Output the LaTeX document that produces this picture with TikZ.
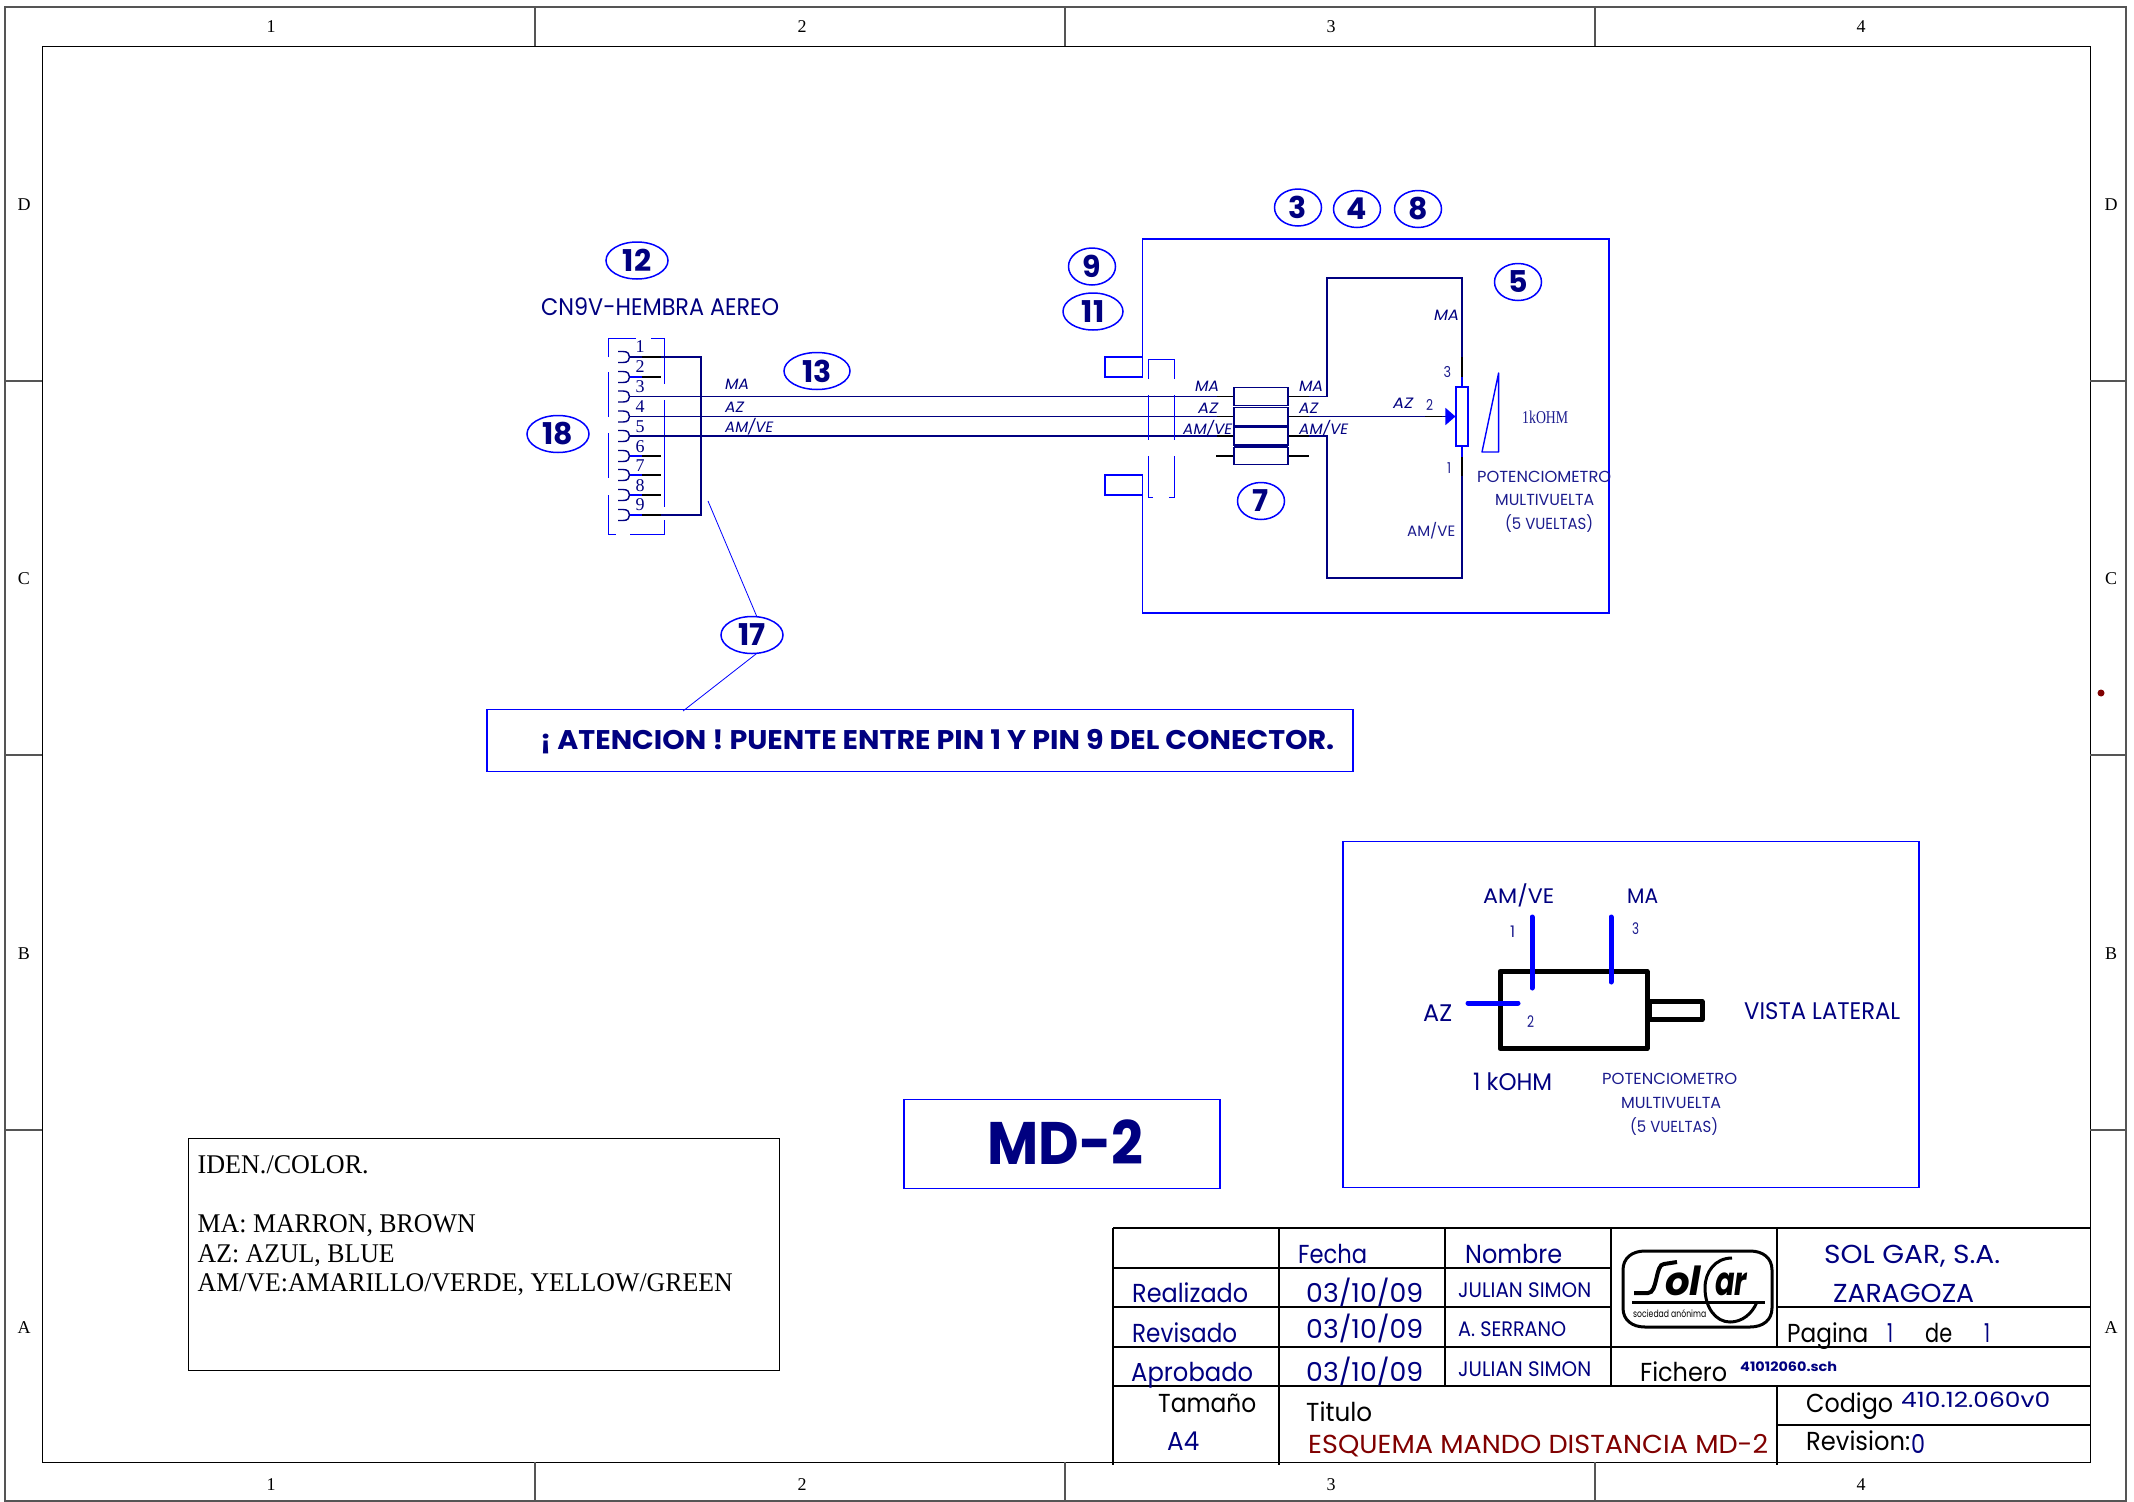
\documentclass[tikz,border=0pt]{standalone}
\usepackage{fontspec}
\usepackage{graphicx}
\usetikzlibrary{shapes.geometric,arrows.meta}
\newfontfamily\cadf{Poppins}
\newfontfamily\serf{Liberation Serif}
\definecolor{navyc}{HTML}{000080}
\definecolor{pureb}{HTML}{0000FF}
\definecolor{softn}{HTML}{1C1C8E}
\definecolor{redt}{HTML}{800000}
\definecolor{frameg}{HTML}{555555}
\newcommand\Tx[7]{\node[anchor=base west,inner sep=0pt,text=navyc,#6] (#1) at (#2,{#3+0.35*#5}) {\resizebox{#4pt}{\height}{\fontsize{#5pt}{#5pt}\selectfont #7}};}
\tikzset{
  txreg/.style={font=\cadf},
  txbold/.style={font=\cadf\bfseries},
  txit/.style={font=\cadf\itshape},
  txser/.style={font=\serf},
  txsoft/.style={font=\cadf,text=softn},
  txblack/.style={font=\cadf,text=black},
  blubox/.style={draw=pureb,line width=1.7pt},
  thinblue/.style={draw=pureb,line width=0.8pt},
  dashb/.style={draw=pureb,line width=1pt},
  wire/.style={draw=navyc,line width=1.7pt},
  stub/.style={draw=black,line width=1.6pt},
  tbl/.style={draw=black,line width=1.4pt},
  frameo/.style={draw=frameg,line width=1.2pt},
  framei/.style={draw=black,line width=1pt},
  numb/.style={ellipse,draw=pureb,line width=1.5pt,inner sep=0pt,minimum width=62pt,minimum height=37pt,text=navyc,font={\cadf\bfseries\fontsize{30pt}{30pt}\selectfont}},
  numc/.style={numb,minimum width=47pt},
  connb/.style={rectangle,draw=navyc,line width=1.4pt,fill=white,inner sep=0pt,minimum width=54pt,minimum height=17.5pt},
  bordl/.style={inner sep=0pt,font={\serf\fontsize{18pt}{18pt}\selectfont},text=black},
  logoln/.style={draw=black,line width=3pt},
  heavy/.style={draw=black,line width=5pt,line join=round},
  pinb/.style={draw=pureb,line width=5pt,line cap=round}
}
\begin{document}
\begin{tikzpicture}[x=1pt,y=-1pt]
\useasboundingbox (0,0) rectangle (2134,1502);
\fill[white] (0,0) rectangle (2134,1502);
% ---------- frame
\draw[frameo] (5,7) rectangle (2126,1501);
\draw[framei] (42,46) rectangle (2090,1462);
\foreach \x in {535,1065,1595}{\draw[frameo] (\x,7) -- (\x,46); \draw[frameo] (\x,1462) -- (\x,1501);}
\foreach \y in {381,755,1130}{\draw[frameo] (5,\y) -- (42,\y); \draw[frameo] (2090,\y) -- (2126,\y);}
\foreach \t/\x in {1/271,2/802,3/1331,4/1861}{
  \node[bordl] (top\t) at (\x,27) {\t};
  \node[bordl] (bot\t) at (\x,1485) {\t};}
\foreach \t/\y in {D/205,C/579,B/954,A/1328}{
  \node[bordl] (left\t) at (24,\y) {\t};
  \node[bordl] (right\t) at (2111,\y) {\t};}
\fill[redt] (2101,693) circle (3.5);
% ---------- plug
\foreach \n/\y in {1/357,2/377,3/396.5,4/416.5,5/436,6/456,7/475,8/495,9/515}{
  \coordinate (pin\n) at (629.5,\y);
  \draw[draw=navyc,line width=1.4pt] (618,\y-5.5) -- (623,\y-5.5) .. controls (628,\y-5.5) and (629.5,\y-3) .. (629.5,\y) .. controls (629.5,\y+3) and (628,\y+5.5) .. (623,\y+5.5) -- (618,\y+5.5);
  \draw[draw=pureb,line width=1.2pt] (629.5,\y) -- (642,\y);
  \draw[stub] (642,\y) -- (661,\y);
}
\foreach \n/\y in {1/347,2/367,3/387,4/407,5/427,6/447,7/466,8/486,9/505}{
  \node[bordl,text=navyc,font={\serf\fontsize{18pt}{18pt}\selectfont}] (pn\n) at (640,\y) {\n};
}
\draw[dashb] (608,357) -- (608,338) -- (636,338) (651,338) -- (664,338) -- (664,384);
\draw[dashb] (608,372) -- (608,417) (608,433) -- (608,478) (664,400) -- (664,507);
\draw[dashb] (608,495) -- (608,534) -- (616,534) (630,534) -- (664,534) -- (664,520);
\draw[wire] (pin1) -- (642,357) (661,357) -- (701,357) -- (701,515) -- (661,515);
% ---------- wiring block
\node[connb] (c1) at (1261,396.5) {};
\node[connb] (c2) at (1261,416.5) {};
\node[connb,line width=1.6pt] (c3) at (1261,436) {};
\node[connb] (c4) at (1261,456) {};
\draw[draw=navyc,line width=3pt] (1234,426) -- (1288,426) (1234,446) -- (1288,446);
\coordinate (lm) at (1217,396.5);
\coordinate (la) at (1217,416.5);
\coordinate (lv) at (1217,436);
\coordinate (lf) at (1216,456);
\draw[wire] (pin3) -- (lm);
\draw[wire] (pin4) -- (la);
\draw[wire] (pin5) -- (lv);
\draw[stub] (lm) -- (c1.west);
\draw[stub] (la) -- (c2.west);
\draw[stub] (lv) -- (c3.west);
\draw[stub] (lf) -- (c4.west);
\draw[stub] (c1.east) -- ++(20,0);
\draw[stub] (c3.east) -- ++(20,0);
\draw[stub] (c4.east) -- ++(20,0);
% dashed shell
\draw[dashb] (1148,379) -- (1148,359) -- (1174,359) -- (1174,379);
\draw[dashb] (1148,395) -- (1148,440) (1174,395) -- (1174,440);
\draw[dashb] (1148,456) -- (1148,497) -- (1153,497) (1169,497) -- (1174,497) -- (1174,456);
% housing
\draw[blubox] (1142.5,377) -- (1142.5,239) -- (1609,239) -- (1609,613) -- (1142.5,613) -- (1142.5,475);
\draw[blubox] (1142.5,357) rectangle (1105,377);
\draw[blubox] (1142.5,475) rectangle (1105,495);
% pot
\node[rectangle,draw=pureb,line width=1.6pt,inner sep=0pt,minimum width=11.5pt,minimum height=59pt] (pot) at (1462,416.5) {};
\draw[wire] (1309,396.5) -- (1327,396.5) -- (1327,278) -- (1462,278) -- (1462,357);
\draw[stub] (1462,357) -- (1462,377);
\draw[draw=pureb,line width=1.5pt] (1462,377) -- (pot.north);
\draw[wire] (1309,436) -- (1327,436) -- (1327,578) -- (1462,578) -- (1462,476);
\draw[stub] (1462,476) -- (1462,457);
\draw[draw=pureb,line width=1.5pt] (1462,457) -- (pot.south);
\draw[wire,line width=1.4pt,-{Triangle[length=10pt,width=17pt,fill=pureb,color=pureb]}] (c2.east) -- (pot.west);
\draw[stub] (c2.east) -- ++(20,0);
\draw[stub] (1425,416.5) -- (1442,416.5);
\draw[draw=pureb,line width=1.4pt,line join=round] (1498.6,373) -- (1482,452) -- (1498.6,452) -- cycle;
% ---------- bubbles
\node[numb] (n12) at (637,260.5) {12};
\node[numb,minimum width=66pt] (n13) at (817,371) {13};
\node[numb] (n18) at (558,434) {18};
\node[numc] (n3) at (1298,207.5) {3};
\node[numc] (n4) at (1357,209) {4};
\node[numc] (n8) at (1418,209) {8};
\node[numc] (n5) at (1518,282) {5};
\node[numc] (n7) at (1261,501) {7};
\node[numc] (n9) at (1092,266.5) {9};
\node[numb,minimum width=60pt] (n11) at (1093,311.5) {11};
\node[numb] (n17) at (752,635) {17};
% ---------- labels
\Tx{cn}{541}{307.5}{238}{24}{txreg}{CN9V-HEMBRA AEREO}
\Tx{wma}{725}{384.5}{24}{15}{txit}{MA}
\Tx{waz}{725}{407.5}{19}{15}{txit}{AZ}
\Tx{wav}{725}{427.5}{48}{15}{txit}{AM/VE}
\Tx{lma}{1195}{386.5}{24}{15}{txit}{MA}
\Tx{laz}{1198}{408.5}{20}{15}{txit}{AZ}
\Tx{lav}{1183}{429.5}{49}{15}{txit}{AM/VE}
\Tx{rma}{1299}{386.5}{24}{15}{txit}{MA}
\Tx{raz}{1299}{408.5}{19}{15}{txit}{AZ}
\Tx{rav}{1299}{429.5}{49}{15}{txit}{AM/VE}
\Tx{pma}{1434}{315}{25}{15}{txit}{MA}
\Tx{paz}{1393}{403}{20}{15}{txit}{AZ}
\Tx{p2}{1426}{405}{7}{15}{txsoft}{2}
\Tx{p3}{1443.5}{372}{7.5}{15}{txsoft}{3}
\Tx{p1}{1447}{468}{4}{15}{txsoft}{1}
\Tx{pav}{1407}{531.5}{48}{15}{txsoft}{AM/VE}
\Tx{kohm}{1522}{417}{46}{18}{txser,text=softn}{1kOHM}
\Tx{pa}{1477}{476.5}{134}{16}{txsoft}{POTENCIOMETRO}
\Tx{pb}{1495}{500}{99}{16}{txsoft}{MULTIVUELTA}
\Tx{pc}{1505}{523.5}{88}{16}{txsoft}{(5 VUELTAS)}
% ---------- leaders
\coordinate (lead17a) at (708,501);
\coordinate (lead17b) at (683,711);
\coordinate (lead17c) at (757,617);
\coordinate (lead17d) at (756,654);
\draw[thinblue] (lead17a) -- (lead17c);
\draw[thinblue] (lead17d) -- (lead17b);
% ---------- notice
\node[rectangle,draw=pureb,line width=1.7pt,inner sep=0pt,minimum width=866pt,minimum height=62pt] (notice) at (920,740.5) {};
\Tx{noticet}{540}{740.5}{794}{27}{txbold}{¡ ATENCION ! PUENTE ENTRE PIN 1 Y PIN 9 DEL CONECTOR.}
% ---------- MD-2
\node[rectangle,draw=pureb,line width=1.7pt,inner sep=0pt,minimum width=316pt,minimum height=89pt] (mdbox) at (1062,1144) {};
\Tx{mdt}{987.5}{1143}{156}{60}{txbold}{MD-2}
% ---------- legend
\node[rectangle,draw=black,line width=1pt,inner sep=0pt,minimum width=590.4pt,minimum height=232pt] (leg) at (483.8,1254) {};
\Tx{l1}{197.5}{1164}{171}{27}{txser,text=black}{IDEN./COLOR.}
\Tx{l2}{197.5}{1223}{278}{27}{txser,text=black}{MA: MARRON, BROWN}
\Tx{l3}{197.5}{1253}{197}{27}{txser,text=black}{AZ: AZUL, BLUE}
\Tx{l4}{197.5}{1282}{535}{27}{txser,text=black}{AM/VE:AMARILLO/VERDE, YELLOW/GREEN}
% ---------- side view
\node[rectangle,draw=pureb,line width=1.7pt,inner sep=0pt,minimum width=576pt,minimum height=346pt] (sv) at (1631,1014.5) {};
\draw[heavy] (1500,971.5) rectangle (1647,1048.5);
\draw[heavy] (1649,1001.5) rectangle (1702,1019.5);
\draw[pinb] (1532,917) -- (1532,988);
\draw[pinb] (1611,917) -- (1611,982);
\draw[pinb] (1468,1003) -- (1518,1003);
\Tx{sam}{1483}{896.5}{71}{21}{txreg}{AM/VE}
\Tx{sma}{1627}{896.5}{31}{21}{txreg}{MA}
\Tx{s1}{1510}{932}{5}{16}{txsoft}{1}
\Tx{s3}{1632}{928.5}{7}{16}{txsoft}{3}
\Tx{s2}{1527}{1021.5}{7}{16}{txsoft}{2}
\Tx{saz}{1423}{1013.5}{29}{24}{txreg}{AZ}
\Tx{svl}{1744}{1011.5}{156}{24}{txreg}{VISTA LATERAL}
\Tx{sk}{1473}{1082.5}{79}{24}{txreg}{1 kOHM}
\Tx{spa}{1602}{1079}{135}{16}{txsoft}{POTENCIOMETRO}
\Tx{spb}{1621}{1103}{100}{16}{txsoft}{MULTIVUELTA}
\Tx{spc}{1630}{1127}{88}{16}{txsoft}{(5 VUELTAS)}
% ---------- title block
\draw[tbl] (1113,1228) -- (2090,1228);
\draw[tbl] (1113,1268) -- (1611,1268);
\draw[tbl] (1113,1307) -- (1611,1307) (1777,1307) -- (2090,1307);
\draw[tbl] (1113,1347) -- (2090,1347);
\draw[tbl] (1113,1386) -- (2090,1386);
\draw[tbl] (1777,1425) -- (2090,1425);
\draw[tbl] (1113,1228) -- (1113,1465);
\draw[tbl] (1279,1228) -- (1279,1465);
\draw[tbl] (1445,1228) -- (1445,1386);
\draw[tbl] (1611,1228) -- (1611,1386);
\draw[tbl] (1777,1228) -- (1777,1347) (1777,1386) -- (1777,1465);
\Tx{tf}{1298}{1254}{69}{26}{txreg}{Fecha}
\Tx{tn}{1465}{1254}{97}{26}{txreg}{Nombre}
\Tx{tr1}{1132}{1293}{116}{26}{txreg}{Realizado}
\Tx{tr2}{1132}{1333}{105}{26}{txreg}{Revisado}
\Tx{tr3}{1131}{1372}{122}{26}{txreg}{Aprobado}
\Tx{td1}{1306}{1293}{117}{26}{txreg}{03/10/09}
\Tx{td2}{1306}{1329}{117}{26}{txreg}{03/10/09}
\Tx{td3}{1306}{1372}{117}{26}{txreg}{03/10/09}
\Tx{tj1}{1458}{1290}{133}{21}{txreg}{JULIAN SIMON}
\Tx{tj2}{1458}{1329}{108}{21}{txreg}{A. SERRANO}
\Tx{tj3}{1458}{1369}{133}{21}{txreg}{JULIAN SIMON}
\Tx{ts1}{1824}{1254}{176}{26}{txreg}{SOL GAR, S.A.}
\Tx{ts2}{1833}{1293}{141}{26}{txreg}{ZARAGOZA}
\Tx{tp1}{1787}{1333}{81}{26}{txblack}{Pagina}
\Tx{tp2}{1887}{1333}{6}{26}{txreg}{1}
\Tx{tp3}{1925}{1333}{27}{26}{txblack}{de}
\Tx{tp4}{1984}{1333}{6}{26}{txreg}{1}
\Tx{tfi}{1640}{1372}{87}{26}{txblack}{Fichero}
\Tx{tfn}{1740}{1367}{97}{13}{txbold}{41012060.sch}
\Tx{tta}{1158}{1403}{98}{26}{txblack}{Tamaño}
\Tx{ta4}{1167}{1441}{32}{26}{txreg}{A4}
\Tx{tti}{1306}{1412}{66}{26}{txblack}{Titulo}
\Tx{tes}{1308}{1444}{460}{26}{txreg,text=redt}{ESQUEMA MANDO DISTANCIA MD-2}
\Tx{tco}{1806}{1403}{87}{26}{txblack}{Codigo}
\Tx{tcv}{1901}{1400}{149}{21}{txreg}{410.12.060v0}
\Tx{trv}{1806}{1441}{104}{26}{txblack}{Revision:}
\Tx{trn}{1911}{1444}{14}{26}{txreg}{0}
% ---------- logo
\draw[logoln] (1645,1251) -- (1750,1251) .. controls (1763,1251) and (1772,1258) .. (1772,1270) -- (1772,1308) .. controls (1772,1320) and (1763,1327) .. (1750,1327) -- (1645,1327) .. controls (1632,1327) and (1623,1320) .. (1623,1308) -- (1623,1270) .. controls (1623,1258) and (1632,1251) .. (1645,1251) -- cycle;
\draw[draw=black,line width=4pt] (1634,1293) -- (1648,1293) .. controls (1658,1293) and (1655,1264) .. (1664,1264) -- (1677,1262);
\draw[logoln] (1632,1302) -- (1765,1302);
\draw[logoln] (1732,1258) .. controls (1715,1258) and (1705,1272) .. (1705,1288) .. controls (1705,1308) and (1716,1322) .. (1730,1322) .. controls (1742,1322) and (1752,1314) .. (1757,1302);
\Tx{lol}{1665}{1281}{36}{40}{txit,font=\cadf\bfseries\itshape,text=black}{ol}
\Tx{lar}{1715}{1281}{32}{40}{txit,font=\cadf\bfseries\itshape,text=black}{ar}
\Tx{lso}{1633}{1314}{73}{10}{txblack}{sociedad anónima}
\end{tikzpicture}
\end{document}
